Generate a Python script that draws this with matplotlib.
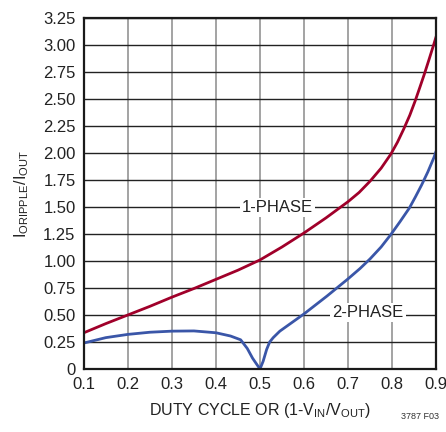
import numpy as np
import matplotlib
matplotlib.use("Agg")
import matplotlib.pyplot as plt

plt.rcParams['font.family'] = ['Liberation Sans Narrow', 'Liberation Sans', 'DejaVu Sans']
plt.rcParams['mathtext.fontset'] = 'custom'
plt.rcParams['mathtext.rm'] = 'Liberation Sans'

# значения
duty_1ph = [0.1, 0.15, 0.2, 0.25, 0.3, 0.35, 0.4, 0.45, 0.5, 0.55, 0.6, 0.65,
            0.7, 0.725, 0.75, 0.775, 0.797, 0.812, 0.826, 0.84, 0.852, 0.863, 0.873,
            0.884, 0.894, 0.9]
ripple_1ph = [0.335, 0.42, 0.5, 0.58, 0.665, 0.745, 0.83, 0.915, 1.01, 1.13, 1.26, 1.40,
              1.55, 1.635, 1.74, 1.86, 1.99, 2.10, 2.22, 2.35, 2.48, 2.61, 2.73,
              2.87, 3.0, 3.08]

duty_2ph = [0.1, 0.15, 0.2, 0.25, 0.3, 0.35, 0.4, 0.433, 0.456, 0.471, 0.483, 0.493, 0.5,
            0.507, 0.515, 0.522, 0.53, 0.545, 0.6, 0.652, 0.7, 0.727, 0.75, 0.775, 0.797,
            0.818, 0.839, 0.853, 0.867, 0.881, 0.895, 0.9]
ripple_2ph = [0.24, 0.29, 0.32, 0.34, 0.35, 0.352, 0.335, 0.305, 0.27, 0.19, 0.10, 0.04, 0.0,
              0.07, 0.18, 0.25, 0.29, 0.35, 0.51, 0.675, 0.835, 0.93, 1.02, 1.13, 1.245,
              1.365, 1.49, 1.595, 1.705, 1.825, 1.96, 2.02]

x_ticks = [0.1, 0.2, 0.3, 0.4, 0.5, 0.6, 0.7, 0.8, 0.9]
y_ticks = [0, 0.25, 0.5, 0.75, 1.0, 1.25, 1.5, 1.75, 2.0, 2.25, 2.5, 2.75, 3.0, 3.25]
y_labels = ["0"] + [f"{v:.2f}" for v in y_ticks[1:]]

fig = plt.figure(figsize=(4.46, 4.32), dpi=100)
ax = fig.add_axes([0.188, 0.146, 0.790, 0.812])

for x in x_ticks:
    ax.axvline(x, color='#8a8a8a', linewidth=1.1, zorder=1)
for y in y_ticks:
    ax.axhline(y, color='#222222', linewidth=1.0, zorder=1)

ax.plot(duty_1ph, ripple_1ph, color='#a0002a', linewidth=2.0, zorder=3,
        solid_joinstyle='round')
ax.plot(duty_2ph, ripple_2ph, color='#3a56a8', linewidth=2.0, zorder=3,
        solid_joinstyle='round')

box = dict(facecolor='white', edgecolor='none', pad=1.5)
ax.text(0.54, 1.5, "1-PHASE", fontsize=12, ha='center', va='center', bbox=box, zorder=2,
        color='#222222')
ax.text(0.745, 0.52, "2-PHASE", fontsize=12, ha='center', va='center', bbox=box, zorder=2,
        color='#222222')

ax.set_xlim(0.1, 0.9)
ax.set_ylim(0, 3.25)
ax.set_xticks(x_ticks)
ax.set_xticklabels([f"{v:.1f}" for v in x_ticks])
ax.set_yticks(y_ticks)
ax.set_yticklabels(y_labels)
ax.tick_params(length=0, labelsize=12, colors='#222222', pad=6)

for s in ax.spines.values():
    s.set_linewidth(1.6)
    s.set_color('#1a1a1a')
    s.set_zorder(4)

ax.set_xlabel(r"DUTY CYCLE OR (1-V$_{\mathregular{IN}}$/V$_{\mathregular{OUT}}$)",
              fontsize=11.5, color='#222222', labelpad=6)
ax.set_ylabel(r"I$_{\mathregular{ORIPPLE}}$/I$_{\mathregular{OUT}}$",
              fontsize=11.5, color='#222222', labelpad=9)

fig.text(0.985, 0.025, "3787 F03", fontsize=6.5, ha='right', va='bottom', color='#333333')

plt.savefig("out.png", dpi=100)
